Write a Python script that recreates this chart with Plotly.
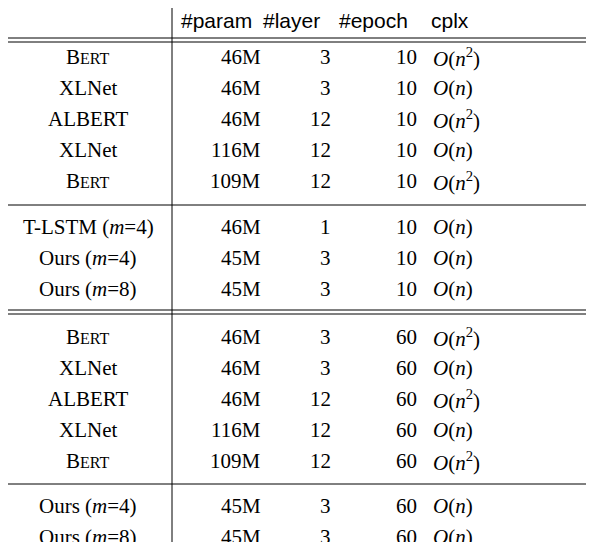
import plotly.graph_objects as go

headers = ["#param", "#layer", "#epoch", "cplx", "PPPL"]
models = ["BERT", "XLNet", "ALBERT", "XLNet", "BERT", "T-LSTM (m=4)", "Ours (m=4)", "Ours (m=8)",
          "BERT", "XLNet", "ALBERT", "XLNet", "BERT", "Ours (m=4)", "Ours (m=8)"]
params = ["46M", "46M", "46M", "116M", "109M", "46M", "45M", "45M",
          "46M", "46M", "46M", "116M", "109M", "45M", "45M"]
layers = [3, 3, 12, 12, 12, 1, 3, 3, 3, 3, 12, 12, 12, 3, 3]
epochs = [10, 10, 10, 10, 10, 10, 10, 10, 60, 60, 60, 60, 60, 60, 60]
cplx = ["n2", "n", "n2", "n", "n2", "n", "n", "n", "n2", "n", "n2", "n", "n2", "n", "n"]
pppl = [441.42, 301.87, 219.20, 127.74, 103.54, 820.57, 83.10, 57.40,
        112.17, 105.64, 71.52, 59.74, 44.70, 55.70, 54.60]
bold = [7, 12]

row_y = [57, 88, 119, 150, 181, 227, 258, 289, 337, 368, 399, 430, 461, 506, 537]
FS = 21

def model_txt(m):
    if m == "BERT":
        return "B<span style='font-size:16px'>ERT</span>"
    if "(m=" in m:
        a, b = m.split("(m=")
        return f"{a}(<i>m</i>={b}"
    return m

def cplx_txt(c):
    return "<i>O</i>(<i>n</i><sup>2</sup>)" if c == "n2" else "<i>O</i>(<i>n</i>)"

ann = []
def add(x, y, t, anchor, fam="Liberation Serif"):
    ann.append(dict(x=x, y=y, text=t, xanchor=anchor, yanchor="middle", showarrow=False,
                    xref="x", yref="y", borderpad=0,
                    font=dict(family=fam, size=FS, color="black")))

hx = [(180, "left"), (262, "left"), (338, "left"), (430, "left"), (587, "right")]
for (x, a), h in zip(hx, headers):
    add(x, 20, h, a, "Liberation Sans")
for i, y in enumerate(row_y):
    add(88, y, model_txt(models[i]), "center")
    add(262, y, params[i], "right")
    add(332, y, str(layers[i]), "right")
    add(406, y, str(epochs[i]), "center")
    add(432, y, cplx_txt(cplx[i]), "left")
    v = f"{pppl[i]:.2f}"
    add(587, y, f"<b>{v}</b>" if i in bold else v, "right")

shapes = []
def hl(y):
    shapes.append(dict(type="line", x0=0, x1=594, y0=y, y1=y, xref="x", yref="y",
                       line=dict(color="black", width=1)))
for y in [38, 42, 205, 310, 314, 484, 549]:
    hl(y)
shapes.append(dict(type="line", x0=172, x1=172, y0=0, y1=549, xref="x", yref="y",
                   line=dict(color="black", width=1)))

fig = go.Figure()
fig.update_layout(width=578, height=534, margin=dict(l=0, r=0, t=0, b=0),
                  plot_bgcolor="white", paper_bgcolor="white",
                  xaxis=dict(range=[8, 586], visible=False, fixedrange=True),
                  yaxis=dict(range=[542, 8], visible=False, fixedrange=True),
                  annotations=ann, shapes=shapes, showlegend=False)
fig.write_html("out.html")
